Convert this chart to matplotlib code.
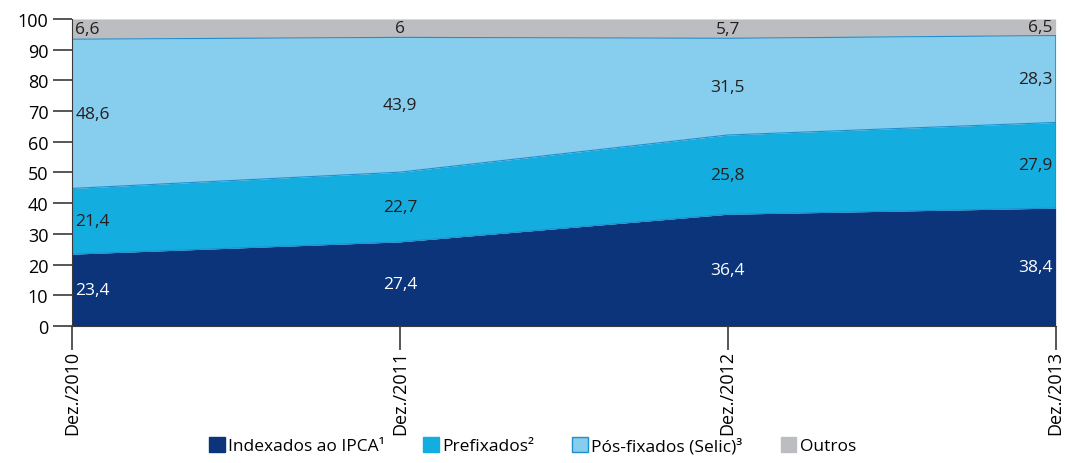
import numpy as np
import matplotlib.pyplot as plt
from matplotlib.patches import Patch

plt.rcParams['font.family'] = ['Open Sans', 'DejaVu Sans']

# Dados
periodos = ['Dez./2010', 'Dez./2011', 'Dez./2012', 'Dez./2013']
ipca = [23.4, 27.4, 36.4, 38.4]
prefixados = [21.4, 22.7, 25.8, 27.9]
pos_fixados = [48.6, 43.9, 31.5, 28.3]
outros = [6.6, 6, 5.7, 6.5]

nomes = ['Indexados ao IPCA¹', 'Prefixados²', 'Pós-fixados (Selic)³', 'Outros']
cores = ['#0b347a', '#14addf', '#86cdee', '#bcbdc0']
cor_texto = ['white', '#231f20', '#231f20', '#231f20']
azul_linha = '#1f8fcf'

fig = plt.figure(figsize=(10.65, 4.64), dpi=100)
ax = fig.add_axes([0.0676, 0.2953, 0.9236, 0.6617])

x = np.arange(len(periodos))
series = [ipca, prefixados, pos_fixados]
base = np.zeros(len(x))
for s, c in zip(series, cores[:3]):
    topo = base + np.array(s)
    ax.fill_between(x, base, topo, color=c, lw=0)
    ax.plot(x, topo, color=azul_linha, lw=0.8)
    base = topo
# Outros preenche até 100
ax.fill_between(x, base, 100, color=cores[3], lw=0)
# borda direita da área
ax.plot([x[-1], x[-1]], [ipca[-1], base[-1]], color=azul_linha, lw=1.2)

# Rótulos
valores = [ipca, prefixados, pos_fixados, outros]
base = np.zeros(len(x))
for i, s in enumerate(valores):
    s = np.array(s, dtype=float)
    if i < 3:
        meio = base + s / 2
    else:
        meio = (base + 100) / 2
    for j in range(len(x)):
        if j == 0:
            ha, xx = 'left', x[j] + 0.01
        elif j == len(x) - 1:
            ha, xx = 'right', x[j] - 0.01
        else:
            ha, xx = 'center', x[j]
        txt = ('%g' % s[j]).replace('.', ',')
        ax.text(xx, meio[j], txt, ha=ha, va='center', fontsize=12.5,
                color=cor_texto[i])
    base = base + s

ax.set_xlim(0, 3)
ax.set_ylim(0, 100)
ax.set_yticks(range(0, 101, 10))
ax.set_xticks(x)
ax.set_xticklabels(periodos, rotation=90)
ax.tick_params(axis='y', length=14, width=1.2, color='#3a3a3a', labelsize=13, pad=3)
ax.tick_params(axis='x', length=17, width=1.2, color='#3a3a3a', labelsize=13, pad=0)
for lado in ['top', 'right']:
    ax.spines[lado].set_visible(False)
ax.spines['left'].set_color('#3a3a3a')
ax.spines['bottom'].set_color('#3a3a3a')

handles = [Patch(facecolor=c, edgecolor=azul_linha if i == 2 else c) for i, c in enumerate(cores)]
fig.legend(handles, nomes, loc='lower center', ncol=4, frameon=False,
           bbox_to_anchor=(0.5, -0.015), fontsize=12.5, handlelength=0.9,
           handleheight=0.9, handletextpad=0.2, columnspacing=2.2)

fig.savefig('out.png', dpi=100)
